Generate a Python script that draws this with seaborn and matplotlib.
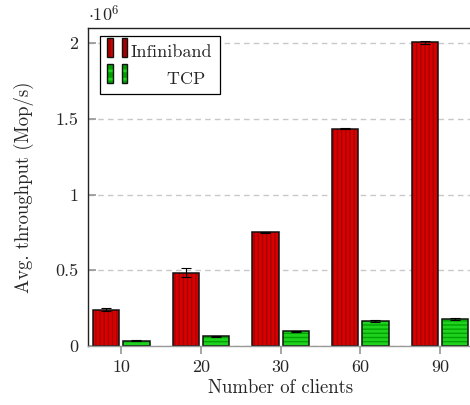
import matplotlib
matplotlib.use("Agg")
import matplotlib.pyplot as plt
import matplotlib.patches as mpatches
from matplotlib.ticker import FuncFormatter
import pandas as pd
import seaborn as sns

# data
clients = ["10", "20", "30", "60", "90"]
infiniband = [0.240e6, 0.485e6, 0.752e6, 1.435e6, 2.005e6]
infiniband_err = [0.008e6, 0.028e6, 0.003e6, 0.003e6, 0.012e6]
tcp = [0.035e6, 0.064e6, 0.097e6, 0.163e6, 0.178e6]
tcp_err = [0.002e6, 0.002e6, 0.002e6, 0.006e6, 0.004e6]
protocols = ["Infiniband", "TCP"]
y_ticks = [0, 0.5e6, 1.0e6, 1.5e6, 2.0e6]

# base colour, stripe colour, hatch pattern
styles = {
    "Infiniband": ("#a50000", "#d80000", "||||"),
    "TCP": ("#00a200", "#1ed21e", "----"),
}

df = pd.DataFrame({
    "clients": clients * 2,
    "value": infiniband + tcp,
    "err": infiniband_err + tcp_err,
    "proto": [protocols[0]] * len(clients) + [protocols[1]] * len(clients),
})


class StripedPair:
    def __init__(self, proto):
        self.proto = proto


class StripedPairHandler:
    # two small striped bars side by side, like the pgfplots legend
    def legend_artist(self, legend, orig_handle, fontsize, handlebox):
        base, stripe, hatch = styles[orig_handle.proto]
        x0, y0 = handlebox.xdescent, handlebox.ydescent
        w, h = handlebox.width, handlebox.height
        bw = w * 0.28
        for bx in (x0, x0 + w - bw):
            fill = mpatches.Rectangle((bx, y0 - 0.1 * h), bw, h * 1.2,
                                      facecolor=base, edgecolor=stripe,
                                      hatch=hatch[:2], linewidth=0,
                                      transform=handlebox.get_transform())
            edge = mpatches.Rectangle((bx, y0 - 0.1 * h), bw, h * 1.2,
                                      fill=False, edgecolor="#111111",
                                      linewidth=1.0,
                                      transform=handlebox.get_transform())
            handlebox.add_artist(fill)
            handlebox.add_artist(edge)
        return fill


sns.set_theme(style="white")
plt.rcParams["font.family"] = ["cmr10", "DejaVu Serif"]
plt.rcParams["mathtext.fontset"] = "cm"
plt.rcParams["axes.formatter.use_mathtext"] = True
plt.rcParams["hatch.linewidth"] = 2.0

fig = plt.figure(figsize=(4.7, 4.05), dpi=100)
ax = fig.add_axes([0.187, 0.1457, 0.82, 0.7852])

palette = {p: styles[p][0] for p in protocols}
sns.barplot(data=df, x="clients", y="value", hue="proto", order=clients,
            hue_order=protocols, palette=palette, width=0.76, gap=0.13,
            errorbar=None, legend=False, saturation=1, ax=ax, zorder=2)

# stripes (hatch in stripe colour) + black outline, then error bars
n = len(clients)
bars = list(ax.patches)
for i, bar in enumerate(bars):
    base, stripe, hatch = styles[protocols[i // n]]
    bar.set_hatch(hatch)
    bar.set_edgecolor(stripe)
    bar.set_linewidth(0)
    ax.add_patch(mpatches.Rectangle((bar.get_x(), bar.get_y()), bar.get_width(),
                                    bar.get_height(), fill=False,
                                    edgecolor="#111111", linewidth=1.1, zorder=2.5))
    cx = bar.get_x() + bar.get_width() / 2
    ax.errorbar(cx, bar.get_height(), yerr=df["err"].iloc[i], fmt="none",
                ecolor="black", elinewidth=0.8, capsize=3.5, capthick=0.8,
                zorder=3)

ax.set_xlim(-0.42, 4.42)
ax.set_ylim(0, 2.1e6)
ax.set_yticks(y_ticks)
ax.yaxis.set_major_formatter(FuncFormatter(lambda v, _: f"{v / 1e6:g}"))
ax.yaxis.grid(True, color="#c8c8c8", linestyle=(0, (4, 3)), linewidth=1, zorder=0)
ax.set_axisbelow(True)

ax.tick_params(axis="y", direction="in", length=6, color="#999999",
               labelsize=13, left=True, pad=7)
ax.tick_params(axis="x", direction="out", length=6, color="#999999",
               labelsize=13, bottom=True, pad=4)
for side in ["left", "top", "right"]:
    ax.spines[side].set_color("#222222")
    ax.spines[side].set_linewidth(1.0)
ax.spines["bottom"].set_color("#999999")
ax.spines["bottom"].set_linewidth(1.0)

ax.set_xlabel("Number of clients", fontsize=13.5, labelpad=3)
ax.set_ylabel("Avg. throughput (Mop/s)", fontsize=13.5, labelpad=15)
ax.text(0.0, 1.01, r"$\cdot 10^6$", transform=ax.transAxes, fontsize=13,
        ha="left", va="bottom")

leg = ax.legend([StripedPair(p) for p in protocols], ["Infiniband", "      TCP"],
                handler_map={StripedPair: StripedPairHandler()},
                loc="upper left", bbox_to_anchor=(0.032, 0.975),
                frameon=True, fancybox=False, framealpha=1, edgecolor="black",
                fontsize=13, handlelength=1.1, handleheight=1.0,
                handletextpad=0.2, borderpad=0.4, labelspacing=0.5,
                borderaxespad=0)
leg.get_frame().set_linewidth(0.9)

fig.savefig("out.png", dpi=100)
